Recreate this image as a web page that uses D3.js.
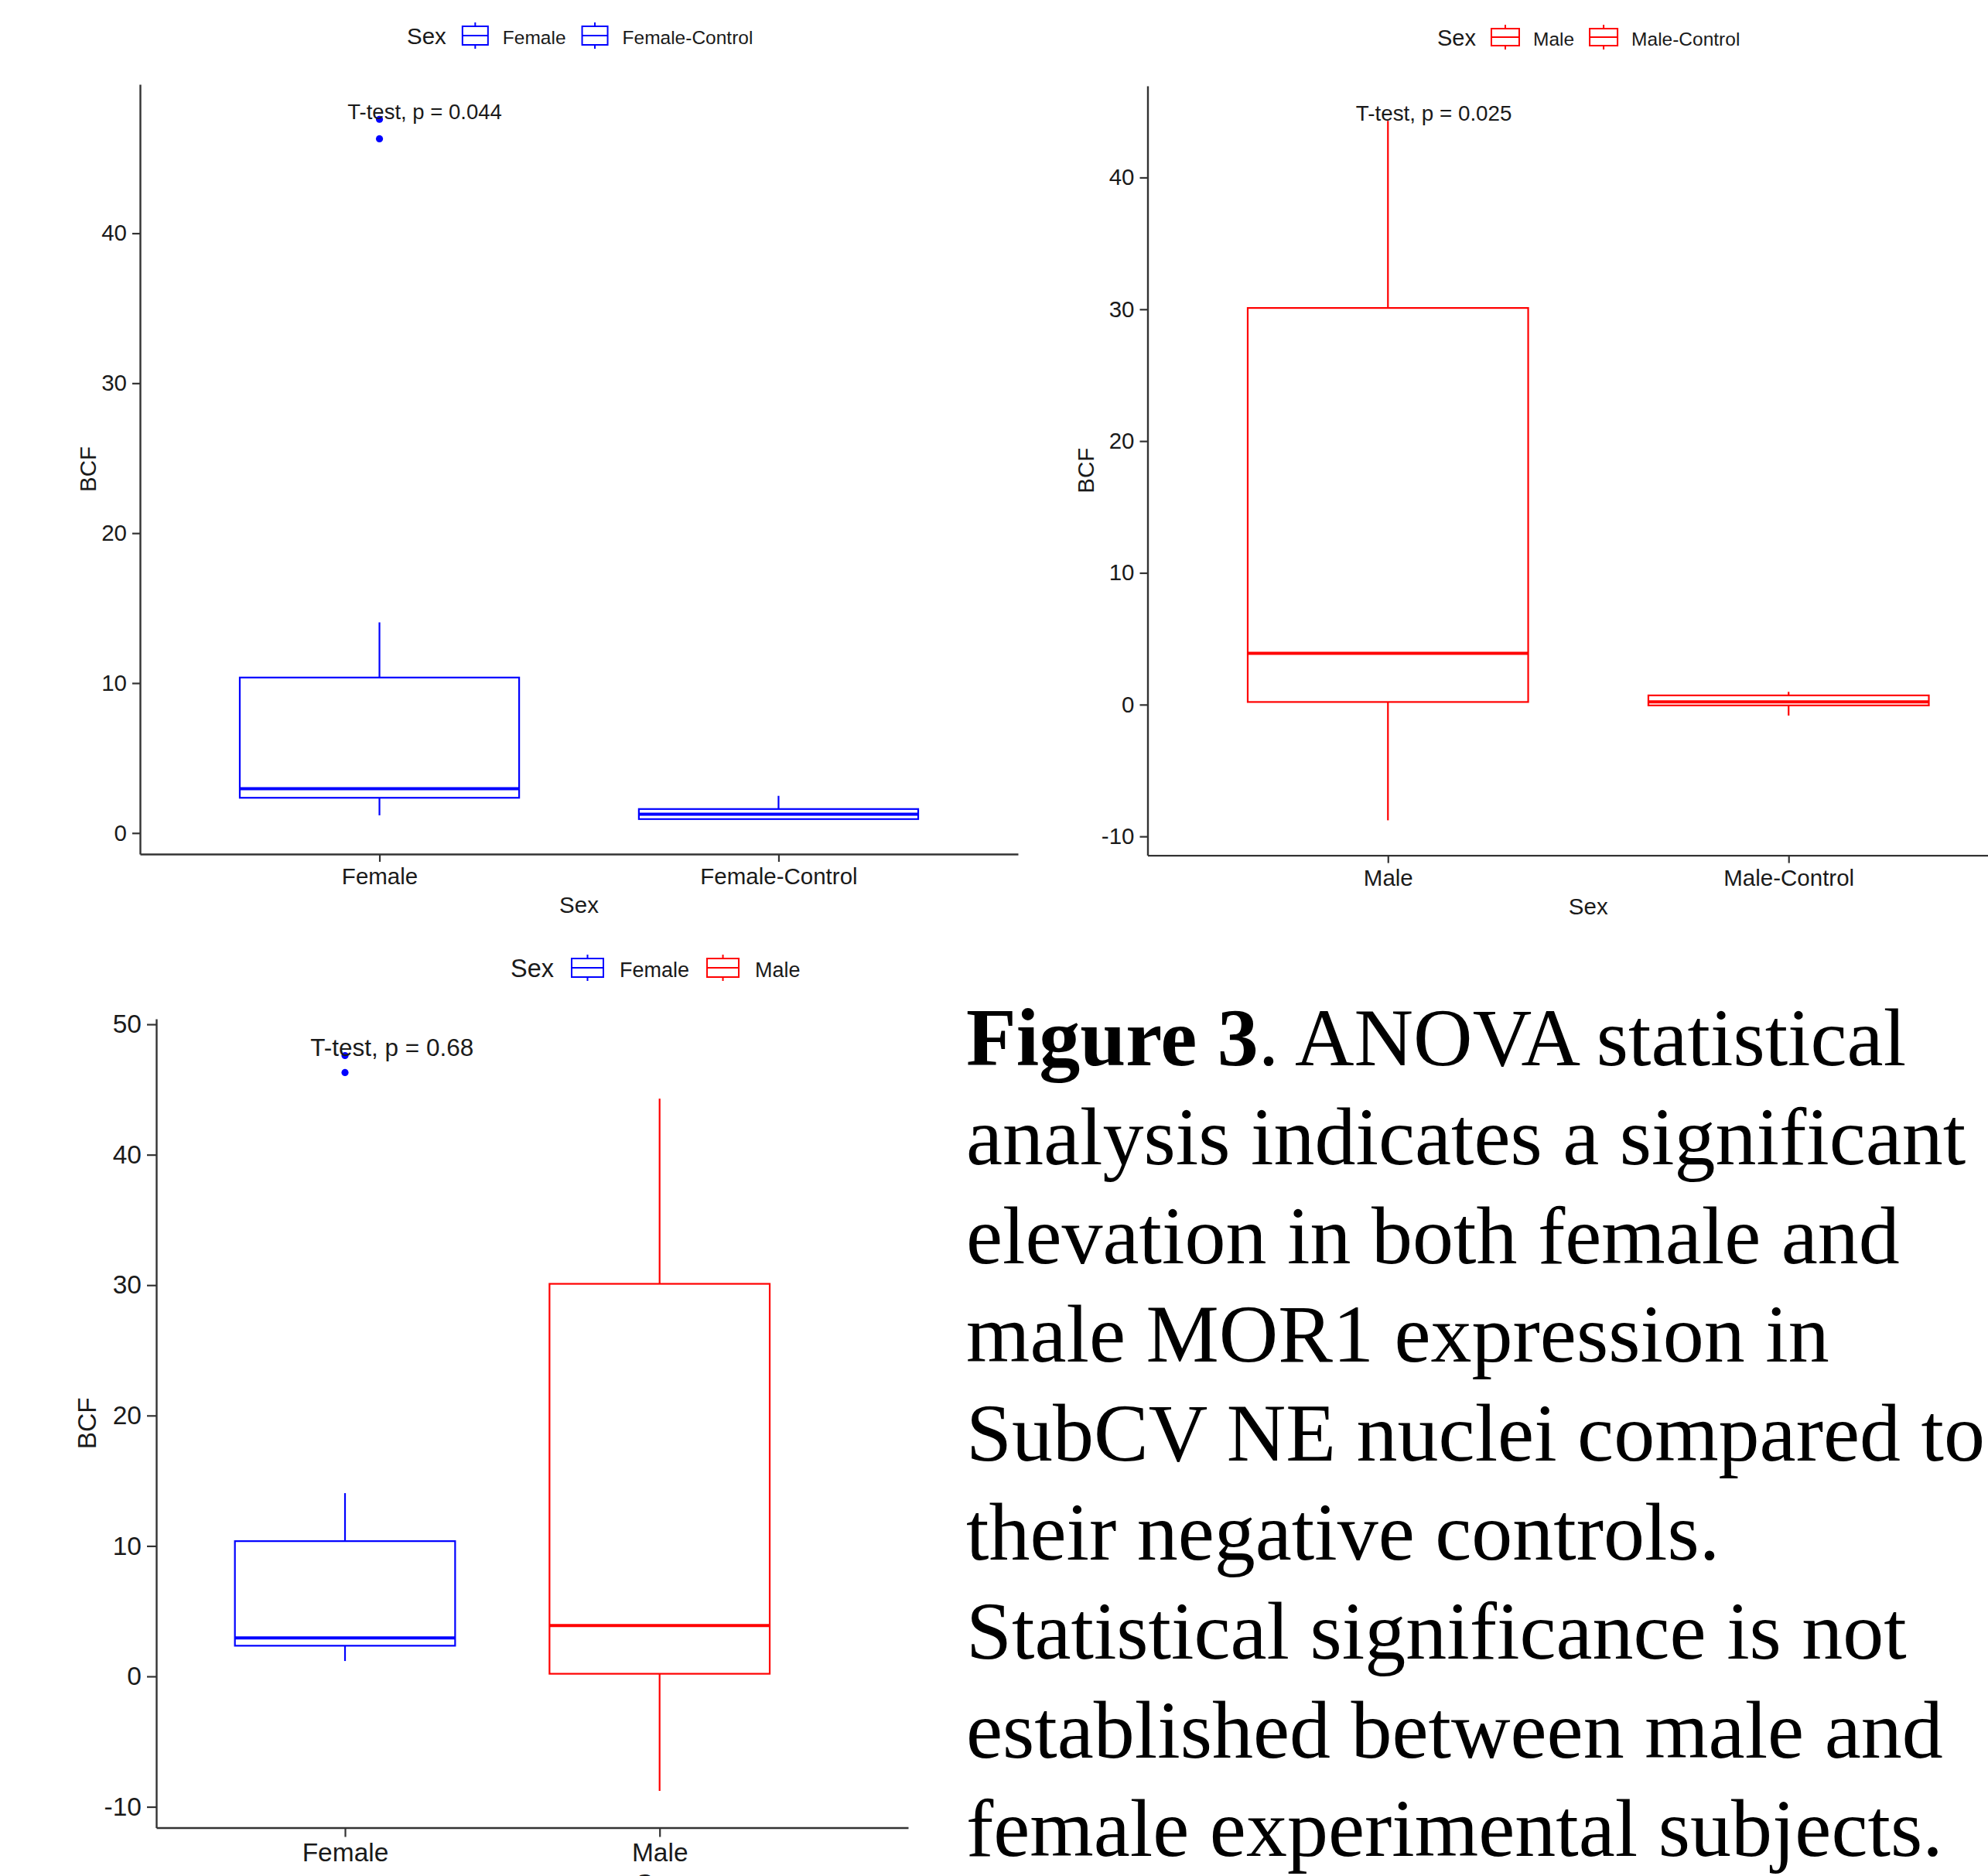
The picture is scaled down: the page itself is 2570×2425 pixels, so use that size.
<!DOCTYPE html>
<html>
<head>
<meta charset="utf-8">
<script src="https://cdn.jsdelivr.net/npm/d3@7"></script>
<style>
  html, body { margin: 0; padding: 0; background: #fff; }
  svg { display: block; }
</style>
</head>
<body>
<div id="chart"></div>
<script>
// box stats: [lower whisker, q1, median, q3, upper whisker]
const femaleBox = [1.18, 2.35, 2.95, 10.37, 14.05]
const femaleOutliers = [46.3, 47.6]
const femaleControlBox = [0.93, 0.93, 1.25, 1.6, 2.48]
const femaleControlOutliers = []
const maleBox = [-8.78, 0.2, 3.9, 30.1, 44.3]
const maleOutliers = []
const maleControlBox = [-0.83, -0.06, 0.21, 0.7, 0.97]
const maleControlOutliers = []

const groupsTopLeft = ['Female', 'Female-Control']
const groupsTopRight = ['Male', 'Male-Control']
const groupsBottom = ['Female', 'Male']

const yTicksTopLeft = [0, 10, 20, 30, 40]
const yTicksTopRight = [-10, 0, 10, 20, 30, 40]
const yTicksBottom = [-10, 0, 10, 20, 30, 40, 50]

const pLabels = ['T-test, p = 0.044', 'T-test, p = 0.025', 'T-test, p = 0.68']

const captionBold = 'Figure 3'
const captionLines = [
    '. ANOVA statistical',
    'analysis indicates a significant',
    'elevation in both female and',
    'male MOR1 expression in',
    'SubCV NE nuclei compared to',
    'their negative controls.',
    'Statistical significance is not',
    'established between male and',
    'female experimental subjects.'
]

const BLUE = '#0000ff'
const RED = '#ff0000'
const SANS = '"Liberation Sans", Arial, Helvetica, sans-serif'
const SERIF = '"Liberation Serif", "Times New Roman", serif'

const W = 2570, H = 2425

const svg = d3.select('#chart').append('svg')
    .attr('width', W)
    .attr('height', H)
    .attr('viewBox', `0 0 ${W} ${H}`)

svg.append('rect').attr('width', W).attr('height', H).attr('fill', '#fff')

function drawPanel(cfg) {
    let g = svg.append('g')

    let all = cfg.boxes.flat().concat(cfg.outliers.flat())
    let lo = d3.min(all), hi = d3.max(all), pad = (hi - lo) * 0.05

    let x = d3.scaleLinear().domain([0.4, cfg.xEnd]).range([cfg.left, cfg.right])
    let y = d3.scaleLinear().domain([lo - pad, hi + pad]).range([cfg.bottom, cfg.top])

    // axes
    let yAxis = g.append('g')
        .attr('transform', `translate(${cfg.left},0)`)
        .call(d3.axisLeft(y).tickValues(cfg.yTicks).tickFormat(d => String(d))
            .tickSize(cfg.tick).tickPadding(7).tickSizeOuter(0))

    let xAxis = g.append('g')
        .attr('transform', `translate(0,${cfg.bottom})`)
        .call(d3.axisBottom(x).tickValues([1, 2]).tickFormat((d, i) => cfg.groups[i])
            .tickSize(cfg.tick).tickPadding(8).tickSizeOuter(0))

    g.selectAll('.domain').attr('stroke', '#333').attr('stroke-width', 2.4)
    g.selectAll('.tick line').attr('stroke', '#333').attr('stroke-width', 2.2)
    g.selectAll('.tick text')
        .attr('fill', '#1a1a1a')
        .style('font-family', SANS)
        .style('font-size', cfg.font + 'px')

    // boxes
    let bw = 0.7
    cfg.boxes.forEach((b, i) => {
        let cx = x(i + 1)
        let col = cfg.colors[i]
        let bg = g.append('g').attr('stroke', col).attr('fill', 'none')

        bg.append('line')
            .attr('x1', cx).attr('x2', cx)
            .attr('y1', y(b[3])).attr('y2', y(b[4]))
            .attr('stroke-width', 2.2)
        bg.append('line')
            .attr('x1', cx).attr('x2', cx)
            .attr('y1', y(b[1])).attr('y2', y(b[0]))
            .attr('stroke-width', 2.2)
        bg.append('rect')
            .attr('x', x(i + 1 - bw / 2))
            .attr('width', x(i + 1 + bw / 2) - x(i + 1 - bw / 2))
            .attr('y', y(b[3]))
            .attr('height', y(b[1]) - y(b[3]))
            .attr('stroke-width', 2.2)
        bg.append('line')
            .attr('x1', x(i + 1 - bw / 2)).attr('x2', x(i + 1 + bw / 2))
            .attr('y1', y(b[2])).attr('y2', y(b[2]))
            .attr('stroke-width', 4)

        g.selectAll(null).data(cfg.outliers[i]).enter().append('circle')
            .attr('cx', cx)
            .attr('cy', d => y(d))
            .attr('r', 4.6)
            .attr('fill', col)
    })

    // p-value label
    g.append('text')
        .attr('x', x(cfg.pX))
        .attr('y', y(hi))
        .attr('fill', '#1a1a1a')
        .style('font-family', SANS)
        .style('font-size', cfg.pFont + 'px')
        .text(cfg.pLabel)

    // axis titles
    g.append('text')
        .attr('x', cfg.xTitleX !== undefined ? cfg.xTitleX : (cfg.left + cfg.right) / 2)
        .attr('y', cfg.xTitleY)
        .attr('text-anchor', 'middle')
        .attr('fill', '#1a1a1a')
        .style('font-family', SANS)
        .style('font-size', cfg.font + 'px')
        .text('Sex')

    g.append('text')
        .attr('transform', `translate(${cfg.yTitleX},${(cfg.top + cfg.bottom) / 2}) rotate(-90)`)
        .attr('text-anchor', 'middle')
        .attr('fill', '#1a1a1a')
        .style('font-family', SANS)
        .style('font-size', cfg.font + 'px')
        .text('BCF')

    drawLegend(g, cfg.legend, cfg.groups, cfg.colors)
}

function drawLegend(g, lg, labels, colors) {
    let lgG = g.append('g')
    let title = lgG.append('text')
        .attr('x', lg.x).attr('y', lg.base)
        .attr('fill', '#1a1a1a')
        .style('font-family', SANS)
        .style('font-size', lg.titleSize + 'px')
        .text('Sex')

    let cursor = lg.x + title.node().getComputedTextLength() + lg.gap

    labels.forEach((lab, i) => {
        let kx = cursor
        let kc = kx + lg.keyW / 2
        let key = lgG.append('g').attr('stroke', colors[i]).attr('fill', 'none').attr('stroke-width', 2)
        key.append('rect')
            .attr('x', kx).attr('y', lg.cy - lg.keyH / 2)
            .attr('width', lg.keyW).attr('height', lg.keyH)
        key.append('line')
            .attr('x1', kx).attr('x2', kx + lg.keyW)
            .attr('y1', lg.cy).attr('y2', lg.cy)
        key.append('line')
            .attr('x1', kc).attr('x2', kc)
            .attr('y1', lg.cy - lg.keyH / 2 - 5).attr('y2', lg.cy - lg.keyH / 2)
        key.append('line')
            .attr('x1', kc).attr('x2', kc)
            .attr('y1', lg.cy + lg.keyH / 2).attr('y2', lg.cy + lg.keyH / 2 + 5)

        let t = lgG.append('text')
            .attr('x', kx + lg.keyW + lg.gap - 2).attr('y', lg.base)
            .attr('fill', '#1a1a1a')
            .style('font-family', SANS)
            .style('font-size', lg.labelSize + 'px')
            .text(lab)

        cursor = kx + lg.keyW + lg.gap - 2 + t.node().getComputedTextLength() + lg.gap
    })
}

drawPanel({
    groups: groupsTopLeft,
    boxes: [femaleBox, femaleControlBox],
    outliers: [femaleOutliers, femaleControlOutliers],
    colors: [BLUE, BLUE],
    left: 181, right: 1316, xEnd: 2.6,
    top: 109, bottom: 1104,
    yTicks: yTicksTopLeft,
    tick: 10, font: 29.5,
    pLabel: pLabels[0], pX: 0.92, pFont: 27.5,
    xTitleY: 1180, yTitleX: 124,
    legend: {x: 526, cy: 46, base: 57, titleSize: 29.5, labelSize: 24.5, keyW: 33, keyH: 24, gap: 21}
})

drawPanel({
    groups: groupsTopRight,
    boxes: [maleBox, maleControlBox],
    outliers: [maleOutliers, maleControlOutliers],
    colors: [RED, RED],
    left: 1483.5, right: 2623, xEnd: 2.6,
    top: 111, bottom: 1105.6,
    yTicks: yTicksTopRight,
    tick: 10, font: 29.5,
    pLabel: pLabels[1], pX: 0.92, pFont: 27.8,
    xTitleY: 1182, yTitleX: 1414,
    legend: {x: 1858, cy: 48, base: 59, titleSize: 29, labelSize: 24.5, keyW: 36, keyH: 22, gap: 20}
})

drawPanel({
    groups: groupsBottom,
    boxes: [femaleBox, maleBox],
    outliers: [femaleOutliers, maleOutliers],
    colors: [BLUE, RED],
    left: 202, right: 1174, xEnd: 2.79,
    top: 1317, bottom: 2362.5,
    yTicks: yTicksBottom,
    tick: 12, font: 33.5,
    pLabel: pLabels[2], pX: 0.89, pFont: 31.5,
    xTitleX: 851, xTitleY: 2446, yTitleX: 124,
    legend: {x: 660, cy: 1251, base: 1263, titleSize: 32.5, labelSize: 27, keyW: 41, keyH: 24, gap: 23}
})

// caption
let cap = svg.append('g')
    .style('font-family', SERIF)
    .style('font-size', '106px')
    .attr('fill', '#000')

captionLines.forEach((line, i) => {
    let t = cap.append('text')
        .attr('x', 1249)
        .attr('y', 1377 + i * 127.8)
    if (i === 0) {
        t.append('tspan').style('font-weight', 'bold').text(captionBold)
    }
    t.append('tspan').text(line)
})
</script>
</body>
</html>
